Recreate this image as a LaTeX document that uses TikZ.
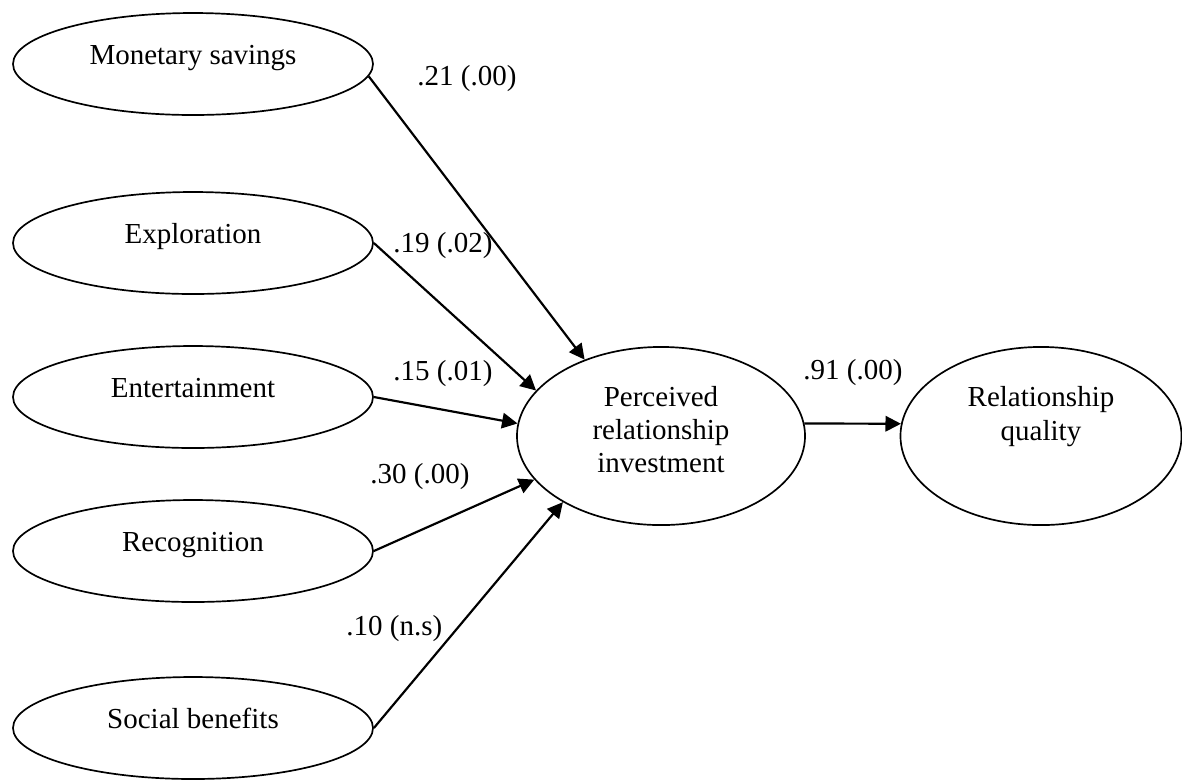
\documentclass[tikz,border=0pt]{standalone}
\usepackage{fontspec}
\setmainfont{Liberation Serif}
\usepackage{tikz}
\usetikzlibrary{shapes}
\usetikzlibrary{arrows.meta}

\begin{document}
\begin{tikzpicture}[x=0.41379pt, y=-0.41379pt,
  font=\fontsize{12}{13.66}\selectfont,
  factor/.style={draw, ellipse, line width=0.7pt, inner sep=0pt,
    minimum width=148.97pt, minimum height=42.2pt,
    text height=6pt, text depth=6pt},
  construct/.style={draw, ellipse, line width=0.7pt, inner sep=0pt,
    minimum height=73.7pt, align=center},
  effect/.style={line width=0.9pt, -{Triangle[length=6.4pt, width=6.4pt]}},
  coef/.style={anchor=base west, inner sep=0pt}]
\useasboundingbox (0,0) rectangle (1182,779);
\node[factor] (ms) at (193,64) {Monetary savings};
\node[factor] (ex) at (193,243) {Exploration};
\node[factor] (en) at (193,397) {Entertainment};
\node[factor] (rc) at (193,551) {Recognition};
\node[factor] (sb) at (193,728) {Social benefits};
\node[construct, 
   minimum width=119.2pt,
   text height=32pt, text depth=1.4pt] (pri) at (661,436) 
  {Perceived\\relationship\\investment};
\node[construct, 
   minimum width=116.3pt,
   text height=8pt, text depth=4.7pt] (rq) at (1041,436) 
  {Relationship\\quality};
\draw[effect] (ms.-4) -- (pri.135);
\draw[effect] (ex.east) -- (pri.160);
\draw[effect] (en.east) -- (pri.175);
\draw[effect] (rc.east) -- (pri.199);
\draw[effect] (sb.east) -- (pri.214);
\draw[effect] (pri.5) -- (rq.175);
\node[coef] (cms) at (417,85) {.21 (.00)};
\node[coef] (cex) at (393,252) {.19 (.02)};
\node[coef] (cen) at (393,380) {.15 (.01)};
\node[coef] (crc) at (370,483) {.30 (.00)};
\node[coef] (csb) at (346,635) {.10 (n.s)};
\node[coef] (crq) at (803,379) {.91 (.00)};
\end{tikzpicture}
\end{document}
